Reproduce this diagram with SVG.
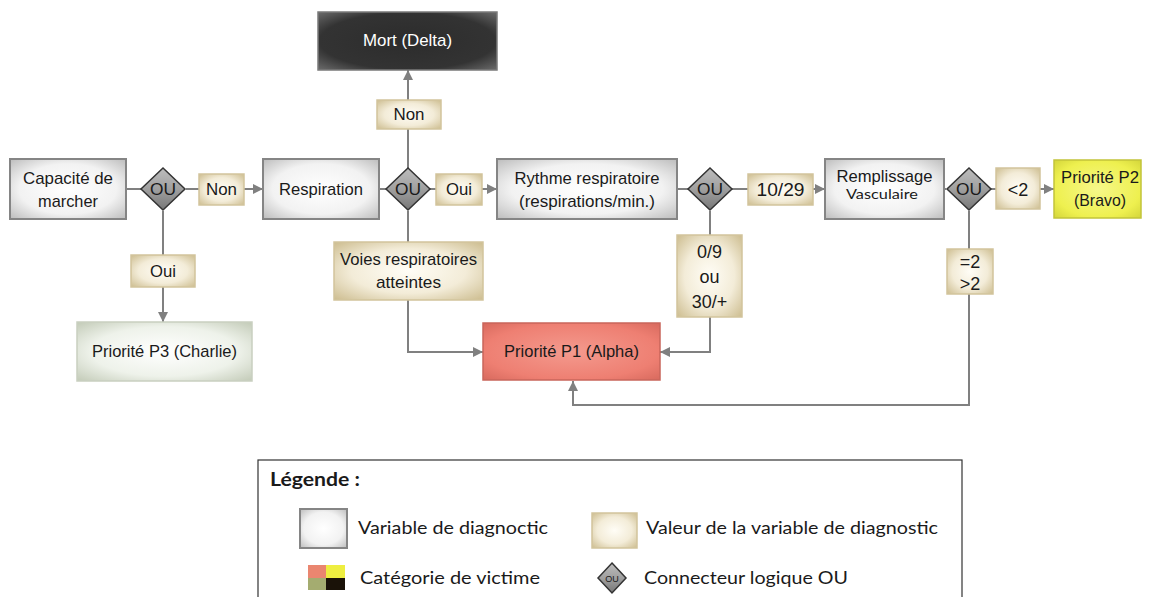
<svg xmlns="http://www.w3.org/2000/svg" width="1149" height="597" viewBox="0 0 1149 597">
<defs>
<radialGradient id="gGray" cx="50%" cy="50%" r="70%">
<stop offset="0" stop-color="#ffffff"/><stop offset="0.6" stop-color="#f2f2f2"/><stop offset="1" stop-color="#bdbdbd"/>
</radialGradient>
<radialGradient id="gTan" cx="50%" cy="50%" r="70%">
<stop offset="0" stop-color="#fffdf6"/><stop offset="0.55" stop-color="#f3ecd8"/><stop offset="1" stop-color="#cdbd90"/>
</radialGradient>
<radialGradient id="gGreen" cx="50%" cy="50%" r="70%">
<stop offset="0" stop-color="#ffffff"/><stop offset="0.6" stop-color="#eef2ea"/><stop offset="1" stop-color="#c3cbb8"/>
</radialGradient>
<radialGradient id="gRed" cx="50%" cy="50%" r="70%">
<stop offset="0" stop-color="#f49a8e"/><stop offset="0.7" stop-color="#ee7f72"/><stop offset="1" stop-color="#d86a5e"/>
</radialGradient>
<radialGradient id="gYellow" cx="50%" cy="50%" r="70%">
<stop offset="0" stop-color="#f6f78a"/><stop offset="0.7" stop-color="#eef04f"/><stop offset="1" stop-color="#d4d63a"/>
</radialGradient>
<radialGradient id="gDark" cx="50%" cy="50%" r="70%">
<stop offset="0" stop-color="#2c2c2c"/><stop offset="0.7" stop-color="#333333"/><stop offset="1" stop-color="#6a6a6a"/>
</radialGradient>
<linearGradient id="gDia" x1="0" y1="0" x2="0" y2="1">
<stop offset="0" stop-color="#bdbdbd"/><stop offset="0.5" stop-color="#a0a0a0"/><stop offset="1" stop-color="#777777"/>
</linearGradient>
<marker id="arr" viewBox="0 0 10 10" refX="10" refY="5" markerWidth="10" markerHeight="10" markerUnits="userSpaceOnUse" orient="auto">
<path d="M0,0 L10,5 L0,10 Z" fill="#808080"/>
</marker>
<style>
.var{fill:url(#gGray);stroke:#858585;stroke-width:2}
.val{fill:url(#gTan);stroke:#d2c49c;stroke-width:1.5}
.dia{fill:url(#gDia);stroke:#333;stroke-width:1.5}
.t{font-family:"Liberation Sans Narrow","Arial Narrow","Liberation Sans",sans-serif;font-size:17px;fill:#1a1a1a;text-anchor:middle}
.tc{font-family:Lato,"Open Sans",sans-serif;fill:#1a1a1a}
.conn{fill:none;stroke:#808080;stroke-width:2}
</style>
</defs>

<g id="connectors">
<path class="conn" d="M126,189 H141"/>
<path class="conn" d="M186,189 H199"/>
<path class="conn" d="M244,189 H263" marker-end="url(#arr)"/>
<path class="conn" d="M163,211 V255"/>
<path class="conn" d="M163,287 V322" marker-end="url(#arr)"/>
<path class="conn" d="M379,189 H386"/>
<path class="conn" d="M430,189 H436"/>
<path class="conn" d="M482,189 H497" marker-end="url(#arr)"/>
<path class="conn" d="M408,168 V129"/>
<path class="conn" d="M408,100 V70" marker-end="url(#arr)"/>
<path class="conn" d="M408,211 V242"/>
<path class="conn" d="M408,300 V352 H483" marker-end="url(#arr)"/>
<path class="conn" d="M677,189 H688"/>
<path class="conn" d="M732,189 H748"/>
<path class="conn" d="M813,189 H825" marker-end="url(#arr)"/>
<path class="conn" d="M710,211 V235"/>
<path class="conn" d="M710,317 V352 H660" marker-end="url(#arr)"/>
<path class="conn" d="M944,189 H946"/>
<path class="conn" d="M991,189 H996"/>
<path class="conn" d="M1040,189 H1054" marker-end="url(#arr)"/>
<path class="conn" d="M969,211 V249"/>
<path class="conn" d="M969,294 V405 H573 V381" marker-end="url(#arr)"/>
</g>

<g id="capacite">
<rect class="var" x="10" y="159" width="116" height="60"/>
<text class="t" x="68" y="184" textLength="90" lengthAdjust="spacingAndGlyphs">Capacité de</text>
<text class="t" x="68" y="207" textLength="60" lengthAdjust="spacingAndGlyphs">marcher</text>
</g>
<g id="ou1">
<polygon class="dia" points="163,168 185,189 163,210 141,189"/>
<text class="t" x="163" y="195" textLength="26" lengthAdjust="spacingAndGlyphs">OU</text>
</g>
<g id="non1">
<rect class="val" x="199" y="174" width="45" height="31"/>
<text class="t" x="221.5" y="195" textLength="31" lengthAdjust="spacingAndGlyphs">Non</text>
</g>
<g id="oui1">
<rect class="val" x="131" y="255" width="64" height="32"/>
<text class="t" x="163" y="277" textLength="26" lengthAdjust="spacingAndGlyphs">Oui</text>
</g>
<g id="p3">
<rect x="77" y="322" width="175" height="59" fill="url(#gGreen)" stroke="#c9cfc0" stroke-width="1.5"/>
<text class="t" x="164.5" y="357" textLength="145" lengthAdjust="spacingAndGlyphs">Priorité P3 (Charlie)</text>
</g>
<g id="respiration">
<rect class="var" x="263" y="159" width="116" height="60"/>
<text class="t" x="321" y="195" textLength="84" lengthAdjust="spacingAndGlyphs">Respiration</text>
</g>
<g id="ou2">
<polygon class="dia" points="408,168 430,189 408,210 386,189"/>
<text class="t" x="408" y="195" textLength="26" lengthAdjust="spacingAndGlyphs">OU</text>
</g>
<g id="oui2">
<rect class="val" x="436" y="174" width="46" height="31"/>
<text class="t" x="459" y="195" textLength="26" lengthAdjust="spacingAndGlyphs">Oui</text>
</g>
<g id="non2">
<rect class="val" x="377" y="100" width="64" height="29"/>
<text class="t" x="409" y="120" textLength="31" lengthAdjust="spacingAndGlyphs">Non</text>
</g>
<g id="mort">
<rect x="318" y="12" width="179" height="58" fill="url(#gDark)" stroke="#7a7a7a" stroke-width="1.5"/>
<text class="t" x="407.5" y="46" style="fill:#ffffff" textLength="89" lengthAdjust="spacingAndGlyphs">Mort (Delta)</text>
</g>
<g id="voies">
<rect class="val" x="334" y="242" width="149" height="58"/>
<text class="t" x="408.5" y="265" textLength="137" lengthAdjust="spacingAndGlyphs">Voies respiratoires</text>
<text class="t" x="408.5" y="288" textLength="65" lengthAdjust="spacingAndGlyphs">atteintes</text>
</g>
<g id="p1">
<rect x="483" y="323" width="177" height="57" fill="url(#gRed)" stroke="#c9665b" stroke-width="1.5"/>
<text class="t" x="571.5" y="357" textLength="135" lengthAdjust="spacingAndGlyphs">Priorité P1 (Alpha)</text>
</g>
<g id="rythme">
<rect class="var" x="497" y="159" width="180" height="60"/>
<text class="t" x="587" y="184" textLength="145" lengthAdjust="spacingAndGlyphs">Rythme respiratoire</text>
<text class="t" x="587" y="207" textLength="136" lengthAdjust="spacingAndGlyphs">(respirations/min.)</text>
</g>
<g id="ou3">
<polygon class="dia" points="710,168 732,189 710,210 688,189"/>
<text class="t" x="710" y="195" textLength="26" lengthAdjust="spacingAndGlyphs">OU</text>
</g>
<g id="v1029">
<rect class="val" x="748" y="174" width="65" height="31"/>
<text class="t" x="780.5" y="196" style="font-size:18px" textLength="48" lengthAdjust="spacingAndGlyphs">10/29</text>
</g>
<g id="v09">
<rect class="val" x="677" y="235" width="65" height="82"/>
<text class="t" x="709.5" y="258" style="font-size:18px">0/9</text>
<text class="t" x="709.5" y="283" style="font-size:18px">ou</text>
<text class="t" x="709.5" y="308" style="font-size:18px">30/+</text>
</g>
<g id="remplissage">
<rect class="var" x="825" y="159" width="119" height="60"/>
<text class="t" x="884.5" y="182" textLength="96" lengthAdjust="spacingAndGlyphs">Remplissage</text>
<text class="tc" x="882" y="199" style="font-size:14px;text-anchor:middle" textLength="72" lengthAdjust="spacingAndGlyphs">Vasculaire</text>
</g>
<g id="ou4">
<polygon class="dia" points="969,168 991,189 969,210 947,189"/>
<text class="t" x="969" y="195" textLength="26" lengthAdjust="spacingAndGlyphs">OU</text>
</g>
<g id="vlt2">
<rect class="val" x="996" y="168" width="44" height="41"/>
<text class="t" x="1018" y="196" style="font-size:18px">&lt;2</text>
</g>
<g id="vge2">
<rect class="val" x="947" y="249" width="46" height="45"/>
<text class="t" x="970" y="268" style="font-size:18px">=2</text>
<text class="t" x="970" y="290" style="font-size:18px">&gt;2</text>
</g>
<g id="p2">
<rect x="1054" y="160" width="87" height="58" fill="url(#gYellow)" stroke="#c2c43a" stroke-width="1.5"/>
<text class="t" x="1100" y="183" textLength="78" lengthAdjust="spacingAndGlyphs">Priorité P2</text>
<text class="t" x="1100" y="206" textLength="52" lengthAdjust="spacingAndGlyphs">(Bravo)</text>
</g>

<g id="legende">
<rect x="258" y="460" width="704" height="150" fill="#ffffff" stroke="#333" stroke-width="1.2"/>
<text class="tc" x="270" y="486" style="font-size:18px;font-weight:bold" textLength="90" lengthAdjust="spacingAndGlyphs">Légende :</text>
<rect class="var" x="300" y="509" width="47" height="39"/>
<text class="tc" x="358" y="534" style="font-size:17px" textLength="190" lengthAdjust="spacingAndGlyphs">Variable de diagnoctic</text>
<rect class="val" x="592" y="513" width="45" height="35"/>
<text class="tc" x="646" y="534" style="font-size:17px" textLength="292" lengthAdjust="spacingAndGlyphs">Valeur de la variable de diagnostic</text>
<rect x="308" y="565" width="18" height="13" fill="#ea8670"/>
<rect x="326" y="565" width="19" height="13" fill="#eeee40"/>
<rect x="308" y="578" width="18" height="12" fill="#a4ac70"/>
<rect x="326" y="578" width="19" height="12" fill="#1a1208"/>
<text class="tc" x="360" y="584" style="font-size:17px" textLength="180" lengthAdjust="spacingAndGlyphs">Catégorie de victime</text>
<polygon class="dia" points="612,563 626,578 612,593 598,578"/>
<text class="t" x="612" y="582" style="font-size:9px">OU</text>
<text class="tc" x="644" y="584" style="font-size:17px" textLength="204" lengthAdjust="spacingAndGlyphs">Connecteur logique OU</text>
</g>
</svg>
